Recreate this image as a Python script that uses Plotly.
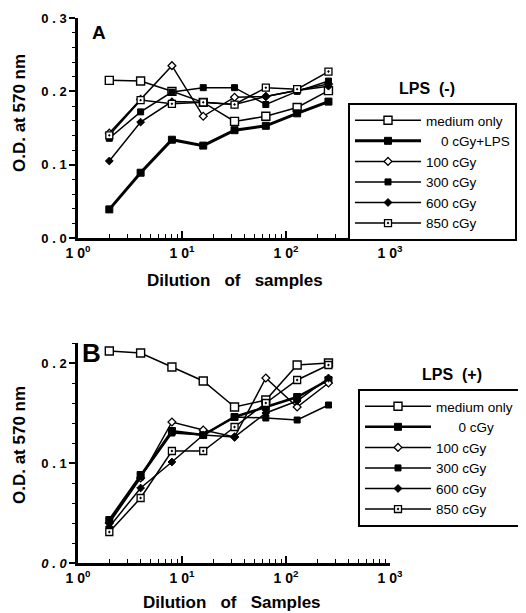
import plotly.graph_objects as go

# ---------------- data ----------------
dilution = [2, 4, 8, 16, 32, 64, 128, 256]

series_names_a = ["medium only", "\u00a0\u00a0\u00a0\u00a00 cGy+LPS", "100 cGy", "300 cGy", "600 cGy", "850 cGy"]
series_names_b = ["medium only", "\u00a0\u00a0\u00a0\u00a0\u00a0\u00a00 cGy", "100 cGy", "300 cGy", "600 cGy", "850 cGy"]

a_medium = [0.215, 0.214, 0.200, 0.185, 0.159, 0.166, 0.178, 0.201]
a_0cgy_lps = [0.039, 0.089, 0.134, 0.126, 0.147, 0.153, 0.170, 0.186]
a_100 = [0.143, 0.189, 0.235, 0.166, 0.192, 0.193, 0.202, 0.210]
a_300 = [0.136, 0.172, 0.199, 0.205, 0.205, 0.182, 0.200, 0.214]
a_600 = [0.105, 0.158, 0.186, 0.185, 0.182, 0.193, 0.201, 0.207]
a_850 = [0.140, 0.188, 0.183, 0.185, 0.182, 0.205, 0.203, 0.227]

b_medium = [0.212, 0.210, 0.196, 0.182, 0.156, 0.163, 0.198, 0.200]
b_0cgy = [0.043, 0.088, 0.132, 0.128, 0.146, 0.156, 0.166, 0.183]
b_100 = [0.040, 0.085, 0.141, 0.133, 0.126, 0.185, 0.156, 0.180]
b_300 = [0.042, 0.086, 0.130, 0.128, 0.146, 0.145, 0.143, 0.158]
b_600 = [0.036, 0.075, 0.101, 0.128, 0.126, 0.150, 0.162, 0.185]
b_850 = [0.031, 0.065, 0.112, 0.112, 0.136, 0.160, 0.183, 0.198]

x_tickvals = [1, 10, 100, 1000]
x_ticktext = ["1 0<sup>0</sup>", "1 0<sup>1</sup>", "1 0<sup>2</sup>", "1 0<sup>3</sup>"]
x_minor = [m * 10 ** d for d in range(3) for m in range(2, 10)]
ya_tickvals = [0.0, 0.1, 0.2, 0.3]
ya_ticktext = ["0 . 0", "0 . 1", "0 . 2", "0 . 3"]
yb_tickvals = [0.0, 0.1, 0.2]
yb_ticktext = ["<i>0 . 0</i>", "0 . 1", "0 . 2"]

# ---------------- styles ----------------
VIEW_W, VIEW_H = 526, 613
OFF = 8                      # default page (body) margin
W, H = VIEW_W - OFF, VIEW_H - OFF
FONT = "Arial, Liberation Sans, Helvetica, sans-serif"
NB3 = "\u00a0\u00a0\u00a0"

styles = [
    dict(symbol="square", size=8, color="white", lw=1.4, width=1.5),
    dict(symbol="square", size=7, color="black", lw=1, width=3),
    dict(symbol="diamond", size=6, color="white", lw=1.3, width=1.5),
    dict(symbol="square", size=6, color="black", lw=1, width=1.5),
    dict(symbol="diamond", size=6, color="black", lw=1, width=1.5),
    dict(symbol="square-dot", size=7, color="white", lw=1.3, width=1.5),
]

fig = go.Figure()

def add_panel(values, names, xa, ya, legend, thick_w):
    for i, (vals, nm) in enumerate(zip(values, names)):
        st = styles[i]
        w = thick_w if i == 1 else st["width"]
        fig.add_trace(go.Scatter(
            x=dilution, y=vals, name=nm, mode="lines+markers",
            xaxis=xa, yaxis=ya, legend=legend,
            line=dict(color="black", width=w),
            marker=dict(symbol=st["symbol"], size=st["size"], color=st["color"],
                        line=dict(color="black", width=st["lw"])),
        ))

add_panel([a_medium, a_0cgy_lps, a_100, a_300, a_600, a_850], series_names_a, "x", "y", "legend", 3)
add_panel([b_medium, b_0cgy, b_100, b_300, b_600, b_850], series_names_b, "x2", "y2", "legend2", 2.5)

def px_x(p):
    return (p - OFF) / W

def px_y(p):
    return 1 - (p - OFF) / H

xdom = [px_x(78), px_x(390)]
common_x = dict(
    type="log", range=[0, 3], showgrid=False, zeroline=False,
    showline=True, linecolor="black", linewidth=2.5,
    tickmode="array", tickvals=x_tickvals, ticktext=x_ticktext,
    ticks="inside", ticklen=7, tickwidth=1.5, tickcolor="black",
    tickfont=dict(family=FONT, size=14, color="black", weight="bold"),
    minor=dict(tickmode="array", tickvals=x_minor, ticks="inside", ticklen=4,
               tickwidth=1.2, tickcolor="black"),
    domain=xdom, fixedrange=True, automargin=False,
)
common_y = dict(
    showgrid=False, zeroline=False, showline=True, linecolor="black", linewidth=2.5,
    tickmode="array", ticks="outside", ticklen=6, tickwidth=1.5, tickcolor="black",
    tickfont=dict(family=FONT, size=13, color="black", weight="bold"),
    minor=dict(dtick=0.02, tick0=0, ticks="outside", ticklen=3, tickwidth=1.2, tickcolor="black"),
    fixedrange=True, automargin=False,
)

legend_common = dict(
    bgcolor="white", bordercolor="black", borderwidth=2,
    font=dict(family=FONT, size=13.5, color="black"),
    itemwidth=66, xanchor="left", yanchor="top", tracegroupgap=0,
    itemclick=False, itemdoubleclick=False,
)

fig.update_layout(
    width=W, height=H,
    margin=dict(l=0, r=0, t=0, b=0, pad=0, autoexpand=False),
    paper_bgcolor="white", plot_bgcolor="white",
    xaxis=dict(common_x, anchor="y"),
    yaxis=dict(common_y, range=[0, 0.3], tickvals=ya_tickvals, ticktext=ya_ticktext,
               domain=[px_y(238), px_y(18)], anchor="x"),
    xaxis2=dict(common_x, anchor="y2"),
    yaxis2=dict(common_y, range=[0, 0.22], tickvals=yb_tickvals, ticktext=yb_ticktext,
                domain=[px_y(563), px_y(343)], anchor="x2"),
    legend=dict(legend_common, x=px_x(348), y=px_y(103)),
    legend2=dict(legend_common, x=px_x(358), y=px_y(389)),
    showlegend=True,
)

annots = [
    dict(text="<b>A</b>", x=px_x(99), y=px_y(32), size=19),
    dict(text="<b>B</b>", x=px_x(91), y=px_y(353), size=26),
    dict(text="<b>LPS\u00a0\u00a0(-)</b>", x=px_x(427), y=px_y(88), size=16),
    dict(text="<b>LPS\u00a0\u00a0(+)</b>", x=px_x(452), y=px_y(374), size=16),
    dict(text="<b>Dilution" + NB3 + "of" + NB3 + "samples</b>", x=px_x(235), y=px_y(280), size=17),
    dict(text="<b>Dilution" + NB3 + "of" + NB3 + "Samples</b>", x=px_x(232), y=px_y(602), size=17),
]
for a in annots:
    fig.add_annotation(text=a["text"], x=a["x"], y=a["y"], xref="paper", yref="paper",
                       showarrow=False, xanchor="center", yanchor="middle",
                       font=dict(family=FONT, size=a["size"], color="black"))

for yc in (113, 445):
    fig.add_annotation(text="<b>O.D. at 570 nm</b>", x=px_x(20), y=px_y(yc), xref="paper", yref="paper",
                       showarrow=False, textangle=-90, xanchor="center", yanchor="middle",
                       font=dict(family=FONT, size=17, color="black"))

fig.write_html("out.html")
